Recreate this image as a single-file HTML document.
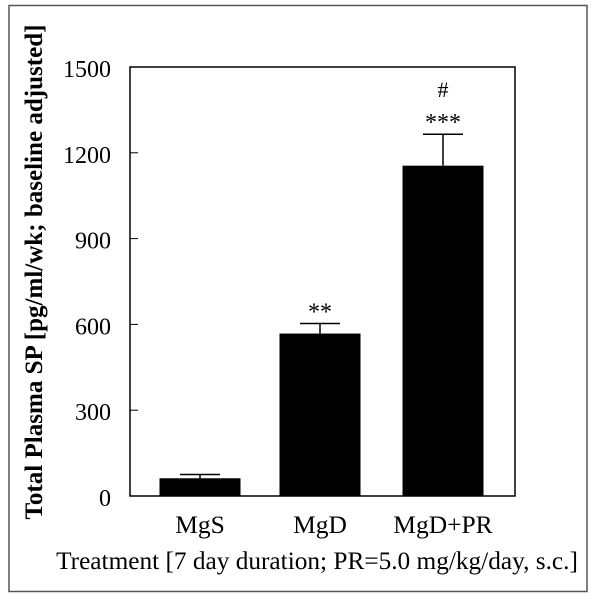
<!DOCTYPE html>
<html><head><meta charset="utf-8"><style>
html,body{margin:0;padding:0;background:#fff}
svg{display:block;font-family:"Liberation Serif",serif}
</style></head><body>
<svg width="600" height="602" viewBox="0 0 600 602">
<rect x="9" y="5.5" width="578" height="586" fill="none" stroke="#555" stroke-width="1.5"/>
<g id="plot"></g>
<text transform="translate(42,272) rotate(-90)" text-anchor="middle" font-size="25" font-weight="bold" textLength="495" lengthAdjust="spacingAndGlyphs">Total Plasma SP [pg/ml/wk; baseline adjusted]</text>
<text x="317" y="569" text-anchor="middle" font-size="25.3">Treatment [7 day duration; PR=5.0 mg/kg/day, s.c.]</text>
</svg>
<script>
const categories=["MgS","MgD","MgD+PR"];
const values=[62,568,1155];
const errors=[13,35,110];
const annotations=["","**","***"];
const annotations2=["","","#"];
const ticks=[0,300,600,900,1200,1500];
const L=130,R=515,T=67,B=496,yMax=1500;
const y=v=>B-(v/yMax)*(B-T);
const centers=[200,320,443];
const bw=81;
const g=document.getElementById('plot');
const NS="http://www.w3.org/2000/svg";
function mk(t,a){const e=document.createElementNS(NS,t);for(const k in a)e.setAttribute(k,a[k]);g.appendChild(e);return e;}
const box=mk('rect',{x:L,y:T,width:R-L,height:B-T,fill:'none',stroke:'#000','stroke-width':1.5});


ticks.forEach(t=>{
 const ln=mk('line',{x1:L,x2:L+8,y1:y(t),y2:y(t),stroke:'#000','stroke-width':1});
 
 
 const tx=mk('text',{x:L-19,y:y(t)+10,'text-anchor':'end','font-size':24});
 tx.textContent=t;
 
 
});
categories.forEach((c,i)=>{
 const cx=centers[i],top=y(values[i]),et=y(values[i]+errors[i]);
 const el=mk('line',{x1:cx,x2:cx,y1:et,y2:top,stroke:'#000','stroke-width':1.5});
 
 
 const cap=mk('line',{x1:cx-20,x2:cx+20,y1:et,y2:et,stroke:'#000','stroke-width':1.5});
 
 
 const r=mk('rect',{x:cx-bw/2,y:top,width:bw,height:B-top,fill:'#000'});
 
 
 const lb=mk('text',{x:cx,y:533,'text-anchor':'middle','font-size':25.5});
 lb.textContent=c;
 
 
 if(annotations[i]){const a=mk('text',{x:cx,y:et-4,'text-anchor':'middle','font-size':24});a.textContent=annotations[i];
 
 }
 if(annotations2[i]){const a=mk('text',{x:cx,y:et-37,'text-anchor':'middle','font-size':22});a.textContent=annotations2[i];
 
 }
});
</script>
</body></html>
